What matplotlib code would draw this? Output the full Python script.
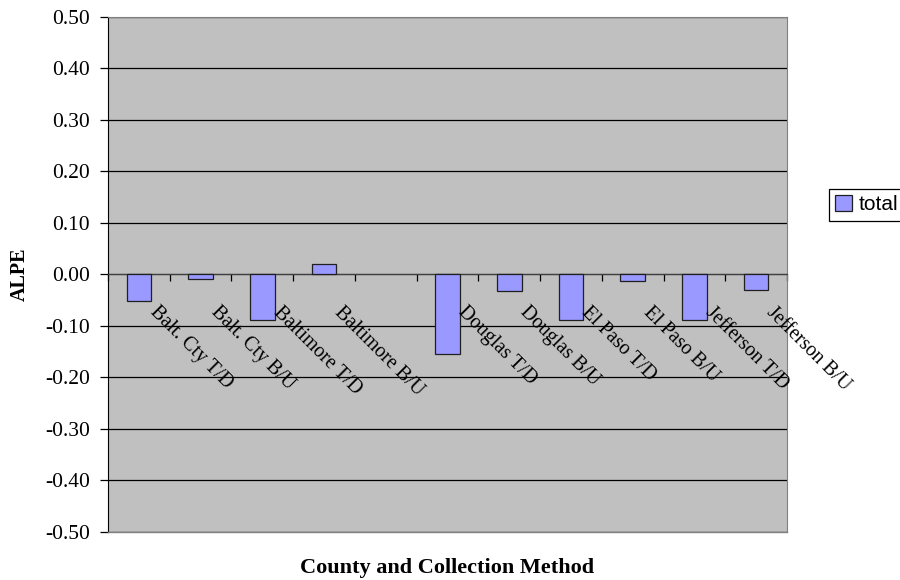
import matplotlib

matplotlib.use('Agg')
import matplotlib.pyplot as plt
import numpy as np
from matplotlib.transforms import offset_copy

# slot 5 is an empty category in the original sheet
categories = ['Balt. Cty T/D', 'Balt. Cty B/U', 'Baltimore T/D', 'Baltimore B/U', '',
              'Douglas T/D', 'Douglas B/U', 'El Paso T/D', 'El Paso B/U',
              'Jefferson T/D', 'Jefferson B/U']
total = [-0.053, -0.010, -0.088, 0.019, np.nan,
         -0.155, -0.032, -0.088, -0.014, -0.088, -0.030]
y_ticks = [-0.5, -0.4, -0.3, -0.2, -0.1, 0.0, 0.1, 0.2, 0.3, 0.4, 0.5]

plt.rcParams['axes.unicode_minus'] = False
serif = 'Liberation Serif'

fig = plt.figure(figsize=(9, 5.8), dpi=100)
ax = fig.add_axes([108 / 900, 1 - 531.7 / 580, 679 / 900, 515 / 580])
ax.set_facecolor('#C0C0C0')

x = np.arange(len(categories))
bars = ax.bar(x, total, width=0.4, color='#9999FF', edgecolor='#202020',
              linewidth=0.9, label='total', zorder=3)

ax.set_xlim(-0.5, len(categories) - 0.5)
ax.set_ylim(-0.5, 0.5)
ax.set_yticks(y_ticks)
ax.set_yticklabels([f'{v:.2f}' for v in y_ticks], fontfamily=serif, fontsize=15.5)
ax.yaxis.grid(True, color='black', linewidth=0.9, zorder=1)
ax.set_axisbelow(True)
ax.tick_params(axis='y', direction='out', length=6, width=0.9, color='black', pad=7)

# category axis sits on zero, ticks at slot boundaries
ax.spines['bottom'].set_position(('data', 0))
ax.spines['bottom'].set_color('#404040')
ax.set_xticks([])
ax.set_xticks(np.arange(len(categories) + 1) - 0.5, minor=True)
ax.tick_params(axis='x', which='minor', direction='out', length=5, width=0.9,
               color='black', labelbottom=False)
ax.spines['left'].set_color('black')
ax.spines['top'].set_color('#808080')
ax.spines['right'].set_color('#808080')
ax.plot([0, 1], [0, 0], transform=ax.transAxes, color='#808080',
        linewidth=1, clip_on=False, zorder=5)

lab_tr = offset_copy(ax.transData, fig=fig, x=14.5, y=-20.5, units='points')
for xi, lab in zip(x, categories):
    ax.text(xi, 0, lab, transform=lab_tr, rotation=-45, rotation_mode='anchor',
            ha='left', va='top', fontfamily=serif, fontsize=14.3, zorder=6)

fig.text(20 / 900, 1 - 274 / 580, 'ALPE', rotation=90, ha='center', va='center',
         fontfamily=serif, fontweight='bold', fontsize=14.5)
fig.text(447 / 900, 1 - 568 / 580, 'County and Collection Method', ha='center',
         va='center', fontfamily=serif, fontweight='bold', fontsize=16)

leg = fig.legend(handles=[bars], loc='upper left', bbox_to_anchor=(829 / 900, 1 - 189 / 580),
                 frameon=True, fancybox=False, edgecolor='black', framealpha=1,
                 prop={'family': 'Liberation Sans', 'size': 15},
                 handlelength=0.8, handleheight=0.8, handletextpad=0.3,
                 borderpad=0.3, borderaxespad=0)
leg.get_frame().set_linewidth(0.9)

fig.savefig('out.png', dpi=100)
